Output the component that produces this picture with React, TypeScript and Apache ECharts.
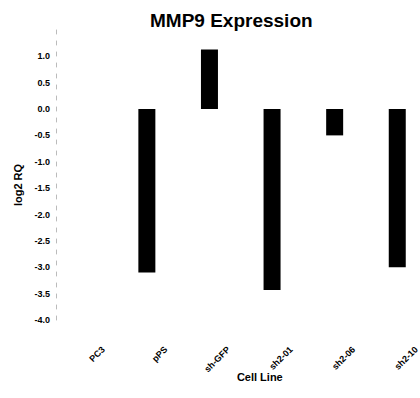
import React, { useEffect, useRef } from "react";
import * as echarts from "echarts";

const categories = ["PC3", "pPS", "sh-GFP", "sh2-01", "sh2-06", "sh2-10"];
const log2RQ = [0, -3.1, 1.13, -3.43, -0.5, -3.0];
const placeholder = [null, null, null, null, null, null];
const titleText = "MMP9 Expression";
const xName = "Cell Line";
const yName = "log2 RQ";

export default function App() {
  const ref = useRef<HTMLDivElement>(null);
  useEffect(() => {
    if (!ref.current) return;
    const chart = echarts.init(ref.current, null, { renderer: "svg" });
    const font = "'Liberation Sans', Arial, sans-serif";
    chart.setOption({
      animation: false,
      backgroundColor: "#ffffff",
      title: {
        text: titleText,
        left: 145,
        top: 6,
        textStyle: { fontFamily: font, fontWeight: "bold", fontSize: 19, color: "#000" },
      },
      graphic: [
        {
          type: "text",
          x: 18,
          y: 185,
          rotation: Math.PI / 2,
          style: {
            text: yName,
            fontFamily: font,
            fontWeight: "bold",
            fontSize: 11,
            fill: "#000",
            textAlign: "center",
            textVerticalAlign: "middle",
          },
        },
      ],
      grid: { left: 72, top: 29.9, width: 375.6, height: 290.1, containLabel: false },
      xAxis: {
        type: "category",
        data: categories,
        axisLine: { show: false },
        axisTick: { show: false },
        axisLabel: {
          rotate: 45,
          interval: 0,
          margin: 28,
          fontFamily: font,
          fontWeight: "bold",
          fontSize: 9,
          color: "#000",
        },
        name: xName,
        nameLocation: "middle",
        nameGap: 51,
        nameMoveOverlap: false,
        nameTextStyle: { fontFamily: font, fontWeight: "bold", fontSize: 11, color: "#000" },
      },
      yAxis: {
        type: "value",
        min: -4,
        max: 1.5,
        interval: 0.5,
        offset: 16,
        splitLine: { show: false },
        axisTick: { show: false },
        axisLine: { show: true, lineStyle: { color: "#bbbbbb", width: 1, type: [4, 7] } },
        axisLabel: {
          showMaxLabel: false,
          margin: 6,
          fontFamily: font,
          fontWeight: "bold",
          fontSize: 9,
          color: "#000",
          formatter: (v: number) => (Math.abs(v) < 1e-9 ? "0.0" : v.toFixed(1)),
        },
      },
      series: [
        {
          type: "bar",
          data: log2RQ,
          barWidth: 17,
          barGap: "124%",
          itemStyle: { color: "#000" },
          clip: false,
        },
        {
          type: "bar",
          data: placeholder,
          barWidth: 17,
          itemStyle: { color: "transparent" },
          silent: true,
        },
      ],
    });
    return () => chart.dispose();
  }, []);
  return (
    <div
      ref={ref}
      style={{ position: "fixed", left: 0, top: 0, width: 460, height: 398, background: "#fff" }}
    />
  );
}
